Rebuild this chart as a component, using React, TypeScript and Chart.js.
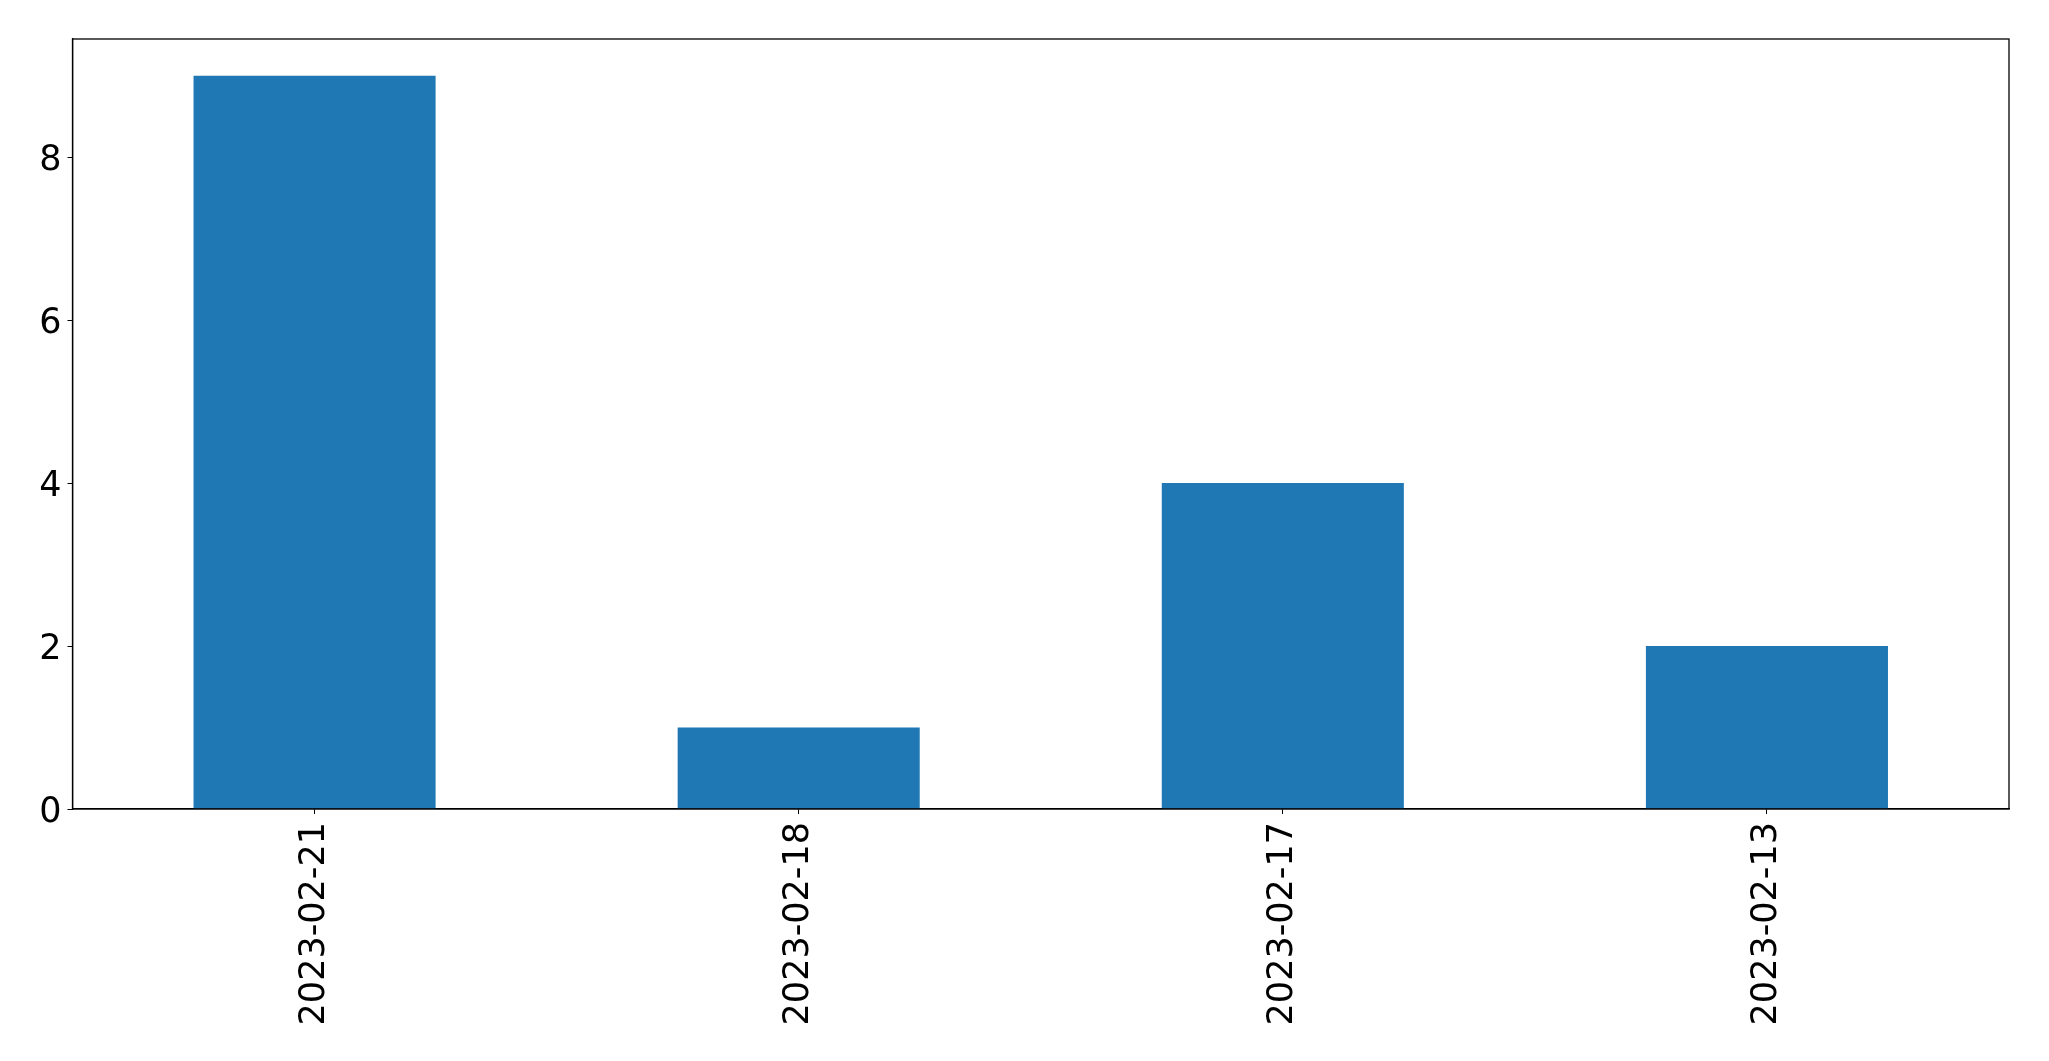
import React, { useEffect, useRef } from "react";
import { Chart, registerables } from "chart.js";

Chart.register(...registerables);

const categories = ["2023-02-21", "2023-02-18", "2023-02-17", "2023-02-13"];
const values = [9, 1, 4, 2];
const yTicks = [0, 2, 4, 6, 8];
const yMax = 9.45;

const framePlugin = {
  id: "frame",
  afterDraw(chart: any) {
    const { ctx, chartArea } = chart;
    ctx.save();
    ctx.strokeStyle = "#000";
    ctx.lineWidth = 1.3;
    ctx.strokeRect(chartArea.left, chartArea.top, chartArea.right - chartArea.left, chartArea.bottom - chartArea.top);
    ctx.restore();
  },
};

export default function App() {
  const ref = useRef<HTMLCanvasElement>(null);
  useEffect(() => {
    const chart = new Chart(ref.current!, {
      type: "bar",
      data: {
        labels: categories,
        datasets: [
          {
            data: values,
            backgroundColor: "#1f77b4",
            barPercentage: 0.5,
            categoryPercentage: 1,
          },
        ],
      },
      options: {
        animation: false,
        responsive: false,
        devicePixelRatio: 1,
        layout: { padding: { left: 0, right: 40, top: 39, bottom: 0 } },
        plugins: { legend: { display: false }, tooltip: { enabled: false } },
        scales: {
          x: {
            offset: true,
            grid: { drawOnChartArea: false, drawTicks: true, tickLength: 5, color: "#000", offset: false },
            border: { display: true, color: "#000", width: 1.3 },
            ticks: {
              minRotation: 90,
              maxRotation: 90,
              autoSkip: false,
              padding: 8,
              color: "#000",
              font: { family: "DejaVu Sans", size: 35 },
            },
            afterFit: (s: any) => {
              s.height = 252;
            },
          },
          y: {
            min: 0,
            max: yMax,
            grid: { drawOnChartArea: false, drawTicks: true, tickLength: 5, color: "#000" },
            border: { display: true, color: "#000", width: 1.3 },
            ticks: {
              padding: 6,
              labelOffset: 4,
              color: "#000",
              font: { family: "DejaVu Sans", size: 35 },
            },
            afterBuildTicks: (s: any) => {
              s.ticks = yTicks.map((v) => ({ value: v }));
            },
            afterFit: (s: any) => {
              s.width = 72.5;
            },
          },
        },
      },
      plugins: [framePlugin],
    });
    return () => chart.destroy();
  }, []);
  return (
    <div style={{ position: "fixed", left: 0, top: 0, width: 2049, height: 1061, background: "#fff" }}>
      <canvas ref={ref} width={2049} height={1061} style={{ width: 2049, height: 1061 }} />
    </div>
  );
}
